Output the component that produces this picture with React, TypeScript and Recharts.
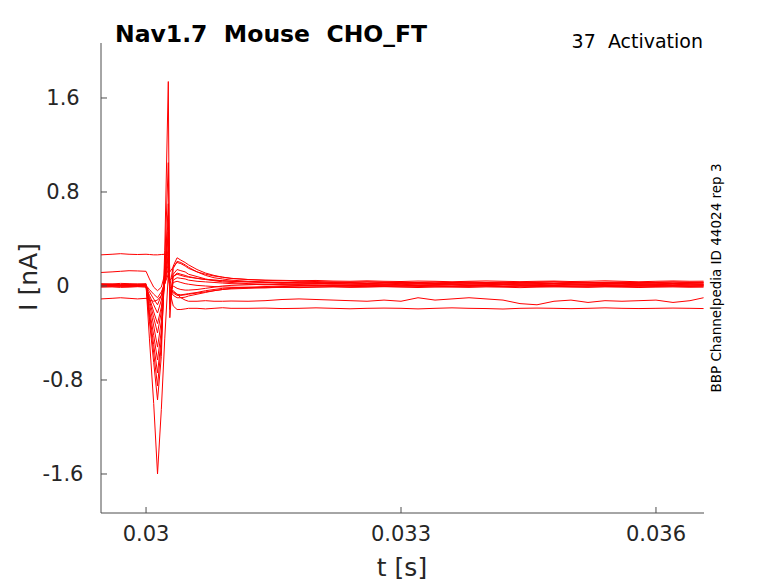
import { LineChart, Line, XAxis, YAxis } from 'recharts';

// time samples [s]
const times = [
  0.02947, 0.0296, 0.0297, 0.0298, 0.0299, 0.03,
  0.03004, 0.03009, 0.030135, 0.03018, 0.03022,
  0.030262, 0.03028, 0.03032, 0.030365, 0.03041,
  0.03046, 0.0305, 0.0306, 0.0307, 0.0308, 0.0309, 0.031,
  0.0312, 0.0314, 0.0316, 0.0318, 0.032, 0.0322, 0.0324, 0.0326, 0.0328, 0.033,
  0.0332, 0.0334, 0.0336, 0.0338, 0.034, 0.0342, 0.0344, 0.0346, 0.0348, 0.035,
  0.0352, 0.0354, 0.0356, 0.0358, 0.036, 0.0362, 0.0364, 0.03656,
];

// current traces [nA], one per voltage step
const trace01 = [
  0.265, 0.27, 0.275, 0.27, 0.268, 0.27,
  0.268, 0.265, 0.265, 0.268, 0.27,
  0.26, 0.05, 0.08, 0.1, 0.09,
  0.08, 0.075, 0.065, 0.055, 0.05, 0.045, 0.04,
  0.035, 0.03, 0.028, 0.033, 0.03, 0.025, 0.03, 0.035, 0.032, 0.028,
  0.03, 0.026, 0.03, 0.034, 0.03, 0.027, 0.03, 0.033, 0.036, 0.03,
  0.028, 0.032, 0.03, 0.027, 0.03, 0.034, 0.03, 0.032,
];
const trace02 = [
  0.115, 0.12, 0.125, 0.13, 0.128, 0.125,
  0.06, -0.01, -0.04, -0.01, 0.1,
  0.46, 0.12, 0.16, 0.2, 0.19,
  0.17, 0.15, 0.12, 0.1, 0.085, 0.075, 0.065,
  0.055, 0.05, 0.048, 0.045, 0.047, 0.042, 0.04, 0.044, 0.04, 0.038,
  0.042, 0.04, 0.036, 0.04, 0.043, 0.04, 0.037, 0.04, 0.042, 0.038,
  0.04, 0.044, 0.04, 0.036, 0.04, 0.043, 0.04, 0.041,
];
const trace03 = [
  -0.11, -0.105, -0.1, -0.105, -0.11, -0.105,
  -0.12, -0.13, -0.12, -0.08, 0.05,
  0.25, -0.05, -0.17, -0.2, -0.2,
  -0.195, -0.19, -0.19, -0.195, -0.19, -0.185, -0.19,
  -0.19, -0.188, -0.192, -0.19, -0.186, -0.19, -0.194, -0.19, -0.188, -0.19,
  -0.195, -0.19, -0.186, -0.19, -0.192, -0.196, -0.19, -0.188, -0.19, -0.193,
  -0.19, -0.186, -0.19, -0.192, -0.19, -0.188, -0.19, -0.192,
];
const trace04 = [
  0.01, 0.012, 0.008, 0.01, 0.012, 0.01,
  -0.45, -1.0, -1.6, -1.05, -0.45,
  0.1, 0.0, 0.17, 0.24, 0.22,
  0.2, 0.18, 0.14, 0.11, 0.09, 0.075, 0.065,
  0.055, 0.048, 0.045, 0.04, 0.038, 0.035, 0.032, 0.034, 0.03, 0.028,
  0.03, 0.033, 0.03, 0.027, 0.03, 0.032, 0.028, 0.03, 0.033, 0.03,
  0.027, 0.03, 0.032, 0.029, 0.03, 0.033, 0.03, 0.031,
];
const trace05 = [
  0.0, 0.002, -0.002, 0.0, 0.003, 0.0,
  -0.3, -0.65, -0.97, -0.6, 0.3,
  1.74, -0.27, 0.15, 0.21, 0.2,
  0.18, 0.16, 0.12, 0.09, 0.07, 0.06, 0.05,
  0.04, 0.035, 0.03, 0.025, 0.022, 0.02, 0.018, 0.02, 0.015, 0.018,
  0.02, 0.016, 0.015, 0.02, 0.018, 0.014, 0.016, 0.02, 0.018, 0.015,
  0.017, 0.02, 0.016, 0.014, 0.018, 0.02, 0.017, 0.016,
];
const trace06 = [
  0.005, 0.0, 0.004, 0.006, 0.002, 0.004,
  -0.27, -0.57, -0.85, -0.5, 0.2,
  1.05, -0.2, 0.1, 0.14, 0.13,
  0.12, 0.1, 0.08, 0.06, 0.045, 0.035, 0.03,
  0.02, 0.015, 0.01, 0.012, 0.008, 0.01, 0.005, 0.008, 0.01, 0.006,
  0.004, 0.008, 0.01, 0.006, 0.005, 0.009, 0.01, 0.006, 0.004, 0.008,
  0.011, 0.007, 0.005, 0.008, 0.01, 0.006, 0.007, 0.009,
];
const trace07 = [
  0.012, 0.015, 0.01, 0.013, 0.016, 0.012,
  -0.23, -0.5, -0.74, -0.45, 0.1,
  0.7, -0.05, -0.04, -0.07, -0.1,
  -0.12, -0.13, -0.13, -0.125, -0.13, -0.13, -0.128,
  -0.13, -0.125, -0.115, -0.11, -0.115, -0.12, -0.125, -0.13, -0.12, -0.13,
  -0.1, -0.12, -0.11, -0.1, -0.11, -0.12, -0.15, -0.16, -0.13, -0.12,
  -0.14, -0.125, -0.13, -0.125, -0.12, -0.14, -0.125, -0.1,
];
const trace08 = [
  0.0, -0.003, 0.002, 0.0, -0.002, 0.0,
  -0.2, -0.42, -0.63, -0.38, 0.1,
  0.6, -0.1, 0.08, 0.11, 0.1,
  0.09, 0.08, 0.065, 0.055, 0.05, 0.045, 0.04,
  0.035, 0.03, 0.032, 0.028, 0.025, 0.03, 0.027, 0.022, 0.025, 0.028,
  0.024, 0.02, 0.025, 0.028, 0.022, 0.025, 0.027, 0.023, 0.02, 0.025,
  0.028, 0.024, 0.021, 0.025, 0.027, 0.022, 0.025, 0.026,
];
const trace09 = [
  0.02, 0.018, 0.022, 0.02, 0.017, 0.02,
  -0.15, -0.34, -0.52, -0.3, 0.05,
  0.46, -0.15, 0.05, 0.07, 0.065,
  0.06, 0.05, 0.04, 0.035, 0.03, 0.025, 0.02,
  0.015, 0.01, 0.012, 0.005, 0.008, 0.0, 0.004, 0.006, 0.002, 0.0,
  0.004, 0.002, -0.002, 0.003, 0.005, 0.0, 0.002, 0.004, 0.0, -0.002,
  0.003, 0.005, 0.001, 0.0, 0.004, 0.002, 0.0, 0.003,
];
const trace10 = [
  0.0, 0.004, 0.0, -0.004, 0.002, 0.0,
  -0.12, -0.27, -0.4, -0.22, 0.05,
  0.35, -0.08, 0.03, 0.04, 0.03,
  0.02, 0.015, 0.005, 0.0, -0.005, -0.008, -0.01,
  -0.012, -0.015, -0.01, -0.014, -0.01, -0.008, -0.012, -0.01, -0.006, -0.01,
  -0.013, -0.009, -0.01, -0.012, -0.008, -0.01, -0.014, -0.01, -0.007, -0.01,
  -0.012, -0.008, -0.01, -0.013, -0.01, -0.008, -0.011, -0.01,
];
const trace11 = [
  0.01, 0.008, 0.012, 0.01, 0.006, 0.01,
  -0.1, -0.22, -0.32, -0.18, 0.03,
  0.28, -0.05, 0.0, -0.02, -0.03,
  -0.035, -0.035, -0.03, -0.02, -0.01, 0.0, 0.005,
  0.01, 0.015, 0.02, 0.018, 0.02, 0.022, 0.018, 0.02, 0.024, 0.02,
  0.018, 0.022, 0.02, 0.017, 0.02, 0.023, 0.02, 0.018, 0.021, 0.02,
  0.017, 0.02, 0.023, 0.02, 0.019, 0.021, 0.02, 0.018,
];
const trace12 = [
  -0.01, -0.008, -0.012, -0.01, -0.006, -0.01,
  -0.08, -0.16, -0.23, -0.12, 0.02,
  0.2, -0.06, -0.05, -0.07, -0.075,
  -0.07, -0.065, -0.055, -0.04, -0.03, -0.02, -0.015,
  -0.01, -0.005, 0.0, 0.002, 0.0, 0.004, 0.0, -0.002, 0.002, 0.0,
  0.004, 0.001, 0.0, 0.003, 0.0, -0.002, 0.002, 0.0, 0.003, 0.0,
  -0.002, 0.002, 0.0, 0.004, 0.0, 0.001, 0.0, 0.002,
];
const trace13 = [
  0.0, 0.003, 0.0, 0.002, 0.0, 0.002,
  -0.05, -0.11, -0.16, -0.08, 0.02,
  0.15, -0.03, -0.08, -0.1, -0.1,
  -0.095, -0.085, -0.07, -0.055, -0.04, -0.03, -0.02,
  -0.015, -0.01, -0.005, 0.0, 0.005, 0.008, 0.01, 0.012, 0.01, 0.014,
  0.01, 0.012, 0.015, 0.01, 0.012, 0.014, 0.01, 0.012, 0.015, 0.011,
  0.01, 0.013, 0.015, 0.01, 0.012, 0.014, 0.011, 0.012,
];
const trace14 = [
  0.005, 0.008, 0.004, 0.006, 0.008, 0.005,
  -0.03, -0.07, -0.1, -0.05, 0.02,
  0.1, 0.0, -0.06, -0.08, -0.08,
  -0.075, -0.07, -0.06, -0.05, -0.04, -0.03, -0.025,
  -0.02, -0.015, -0.012, -0.01, -0.008, -0.005, -0.006, -0.003, -0.005, -0.002,
  -0.004, -0.006, -0.003, -0.004, -0.002, -0.005, -0.003, -0.004, -0.006, -0.003,
  -0.002, -0.004, -0.005, -0.003, -0.004, -0.002, -0.004, -0.003,
];

const traces = [
  trace01, trace02, trace03, trace04, trace05, trace06, trace07,
  trace08, trace09, trace10, trace11, trace12, trace13, trace14,
];

const xTicks = [0.03, 0.033, 0.036];
const yTicks = [-1.6, -0.8, 0, 0.8, 1.6];

const data = times.map((t, i) => {
  const row: Record<string, number> = { t };
  traces.forEach((tr, k) => {
    row[`s${k}`] = tr[i];
  });
  return row;
});

const AXIS = '#4d4d4d';
const TEXT = '#262626';
const FONT = '"DejaVu Sans", sans-serif';

function XTick({ x, y, payload }: any) {
  return (
    <g>
      <line x1={x} x2={x} y1={y} y2={y - 6} stroke={AXIS} />
      <text x={x} y={y} dy={28} textAnchor="middle" fontSize={21} fill={TEXT} fontFamily={FONT}>
        {String(payload.value)}
      </text>
    </g>
  );
}

function YTick({ x, y, payload }: any) {
  return (
    <g>
      <line x1={x} x2={x + 6} y1={y} y2={y} stroke={AXIS} />
      <text x={x - 38} y={y} dy={7.5} textAnchor="middle" fontSize={21} fill={TEXT} fontFamily={FONT}>
        {String(payload.value)}
      </text>
    </g>
  );
}

export default function App() {
  return (
    <div style={{ position: 'absolute', left: 0, top: 0, width: 778, height: 583, background: '#fff' }}>
      <LineChart width={778} height={583} data={data} margin={{ top: 43, right: 74, bottom: 0, left: 0 }}>
        <XAxis
          dataKey="t"
          type="number"
          domain={[0.02947, 0.036565]}
          allowDataOverflow
          ticks={xTicks}
          height={70}
          tickSize={0}
          tickMargin={0}
          tickLine={false}
          axisLine={{ stroke: AXIS }}
          tick={XTick}
        />
        <YAxis
          type="number"
          domain={[-1.932, 2.068]}
          allowDataOverflow
          ticks={yTicks}
          width={101}
          tickSize={0}
          tickMargin={0}
          tickLine={false}
          axisLine={{ stroke: AXIS }}
          tick={YTick}
        />
        {traces.map((_, k) => (
          <Line
            key={k}
            type="linear"
            dataKey={`s${k}`}
            stroke="#ff0000"
            strokeWidth={1}
            dot={false}
            activeDot={false}
            isAnimationActive={false}
          />
        ))}
      </LineChart>
      <svg width={778} height={583} style={{ position: 'absolute', left: 0, top: 0, pointerEvents: 'none' }}>
        <text x={115} y={42} fontSize={23.5} fontWeight="bold" fill="#000" fontFamily={FONT}>
          Nav1.7{'\u00a0\u00a0'}Mouse{'\u00a0\u00a0'}CHO_FT
        </text>
        <text x={703} y={48} fontSize={19} textAnchor="end" fill="#000" fontFamily={FONT}>
          37{'\u00a0\u00a0'}Activation
        </text>
        <text
          x={0}
          y={0}
          fontSize={13.5}
          textAnchor="middle"
          fill="#000"
          fontFamily={FONT}
          transform="translate(721 278) rotate(-90)"
        >
          BBP Channelpedia ID 44024 rep 3
        </text>
        <text x={402} y={576} fontSize={25} textAnchor="middle" fill={TEXT} fontFamily={FONT}>
          t [s]
        </text>
        <text
          x={0}
          y={0}
          fontSize={25}
          textAnchor="middle"
          fill={TEXT}
          fontFamily={FONT}
          transform="translate(37 277) rotate(-90)"
        >
          I [nA]
        </text>
      </svg>
    </div>
  );
}
